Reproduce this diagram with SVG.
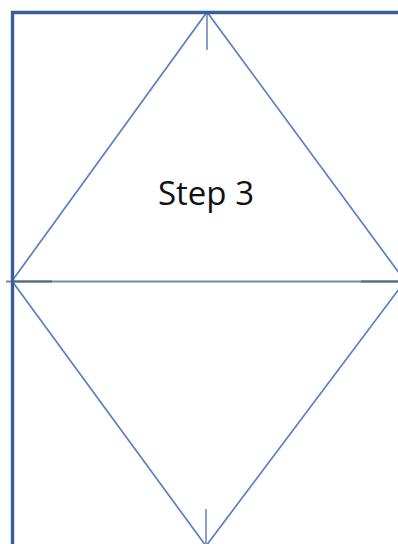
<svg xmlns="http://www.w3.org/2000/svg" width="398" height="544" viewBox="0 0 398 544">
<style>
.border{stroke:#3d5c99;stroke-width:3.4;fill:none}
.fold{stroke:#5b7fc2;stroke-width:1.7;fill:none}
.mid{stroke:#6f89ad;stroke-width:1.8;fill:none}
.dark{stroke:#4f6b80;stroke-width:2.2;fill:none}
.tick{stroke:#5a78b0;stroke-width:1.4;fill:none}
.label{font-family:"Open Sans","Liberation Sans",sans-serif;font-size:33px;fill:#111}
</style>
<rect width="398" height="544" fill="#fff"/>
<g id="connectors">
<line class="mid" x1="6" y1="281.5" x2="398" y2="281.5"/>
<line class="dark" x1="12" y1="281.5" x2="52" y2="281.5"/>
<line class="dark" x1="361" y1="281.5" x2="398" y2="281.5"/>
<polyline class="fold" points="12,281 207,12 405,281 206,546 12,281"/>
<line class="tick" x1="207" y1="12" x2="207" y2="50"/>
<line class="tick" x1="206" y1="509" x2="206" y2="544"/>
</g>
<g id="frame">
<polyline class="border" points="12.5,544 12.5,12.5 398,12.5"/>
</g>
<g id="label">
<text class="label" x="206" y="205" text-anchor="middle">Step 3</text>
</g>
</svg>
